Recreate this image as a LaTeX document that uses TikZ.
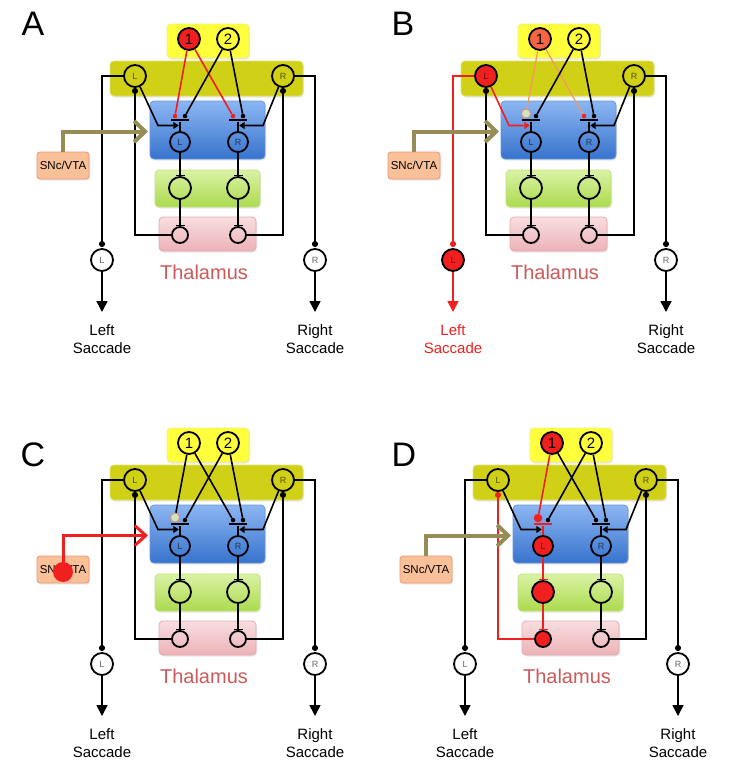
\documentclass[tikz,border=0pt]{standalone}
\usepackage{fontspec}
\setmainfont{Liberation Sans}
\usetikzlibrary{arrows.meta,calc,shadows}
\definecolor{cRed}{RGB}{240,32,32}
\definecolor{cOrg}{RGB}{250,100,65}
\definecolor{cOrL}{RGB}{245,150,100}
\definecolor{cSnc}{RGB}{150,140,85}
\definecolor{cPale}{RGB}{205,232,190}
\definecolor{cPaleD}{RGB}{232,140,125}
\definecolor{cThal}{RGB}{205,90,90}
\definecolor{cY}{RGB}{255,255,60}
\definecolor{cYd}{RGB}{238,238,130}
\definecolor{cOl}{RGB}{208,208,22}
\definecolor{cOld}{RGB}{225,225,120}
\definecolor{cBt}{RGB}{140,182,242}
\definecolor{cBb}{RGB}{55,115,205}
\definecolor{cBd}{RGB}{100,150,220}
\definecolor{cGt}{RGB}{218,242,165}
\definecolor{cGb}{RGB}{172,218,78}
\definecolor{cGd}{RGB}{190,228,120}
\definecolor{cPt}{RGB}{248,222,224}
\definecolor{cPb}{RGB}{236,178,183}
\definecolor{cPd}{RGB}{230,170,175}
\definecolor{cSf}{RGB}{250,192,152}
\definecolor{cSd}{RGB}{235,150,120}

\tikzset{
 wire/.style={line width=1.6pt},
 neu/.style={circle, draw=black, line width=1.8pt, inner sep=0pt, minimum size=22pt,
   font=\fontsize{9}{9}\selectfont, text=black, text opacity=0.6},
 num/.style={neu, font=\fontsize{15}{15}\selectfont, text opacity=1},
 blu/.style={neu, minimum size=20pt},
 sm/.style={neu, minimum size=16pt},
 dotT/.style={circle, fill=black, inner sep=0pt, minimum size=4.5pt, anchor=south},
 paleT/.style={circle, fill=cPale, draw=cPaleD, line width=0.9pt, inner sep=0pt,
   minimum size=9pt, anchor=south},
 gbar/.style={rectangle, fill=black, inner sep=0pt, minimum width=18pt, minimum height=2.6pt},
 inh/.style={wire, -{Bar[width=9pt]}},
 exc/.style={wire, -{Circle[length=6pt]}},
 gatein/.style={wire, -{Triangle[length=5.5pt,width=7pt]}},
 outarr/.style={wire, -{Triangle[length=11pt,width=11pt]}},
 sacc/.style={align=center, inner sep=0pt, font=\fontsize{15}{18}\selectfont},
 plab/.style={font=\fontsize{34}{34}\selectfont, inner sep=0pt},
 tha/.style={text=cThal, font=\fontsize{20}{20}\selectfont, inner sep=0pt},
 bx/.style={rounded corners=4pt, line width=0.8pt,
   drop shadow={opacity=0.18, shadow xshift=1pt, shadow yshift=-1.5pt}},
 sncbox/.style={rectangle, rounded corners=3pt, fill=cSf, draw=cSd, line width=0.8pt,
   minimum width=52pt, minimum height=27pt, inner sep=0pt, font=\fontsize{11.5}{12}\selectfont,
   drop shadow={opacity=0.18, shadow xshift=1pt, shadow yshift=-1.5pt}},
 blob/.style={circle, fill=cRed, inner sep=0pt, minimum size=20pt},
 % panel-variable styles (defaults)
 pOne/.style={}, lOneL/.style={}, lOneR/.style={},
 tOneL/.style={dotT}, tOneR/.style={dotT},
 ltop/.style={}, lout/.style={}, loutc/.style={fill=white}, labL/.style={},
 ltogate/.style={}, chainc/.style={}, chainl/.style={}, barL/.style={}, loopL/.style={},
 sncA/.style={draw=cSnc, line width=4pt, -{Straight Barb[length=11pt,width=21pt]}},
}

\newcommand\panel[4]{%
\begin{scope}[shift={(#2,#3)}]
 \path[bx, fill=cY, draw=cYd] (167,24) rectangle (249,58);
 \path[bx, fill=cOl, draw=cOld] (110,61) rectangle (303,96);
 \path[bx, top color=cBt, bottom color=cBb, draw=cBd] (150,101) rectangle (265,159);
 \path[bx, top color=cGt, bottom color=cGb, draw=cGd] (155,170) rectangle (260,207);
 \path[bx, top color=cPt, bottom color=cPb, draw=cPd] (159,217) rectangle (256,251);
 \node[sncbox] (#1-snc) at (63,165.5) {SNc/VTA};
 \node[tha] (#1-thal) at (204,272) {Thalamus};
 % neurons
 \node[num, pOne] (#1-one) at (189,39) {1};
 \node[num] (#1-two) at (228,39) {2};
 \node[neu, ltop] (#1-Lt) at (135,76) {L};
 \node[neu] (#1-Rt) at (283,76) {R};
 \node[blu, chainc] (#1-bL) at (180,142) {L};
 \node[blu] (#1-bR) at (238,142) {R};
 \node[neu, chainc] (#1-gL) at (180,188) {};
 \node[neu] (#1-gR) at (238,188) {};
 \node[sm, chainc] (#1-tL) at (180,235) {};
 \node[sm] (#1-tR) at (238,235) {};
 \node[neu, loutc] (#1-oL) at (102,260) {L};
 \node[neu, fill=white] (#1-oR) at (315,260) {R};
 % gates
 \node[gbar, barL] (#1-barL) at (180,120) {};
 \node[gbar] (#1-barR) at (238,120) {};
 \draw[line width=2.4pt, chainl] (#1-barL.south) -- (#1-bL.north);
 \draw[line width=2.4pt] (#1-barR.south) -- (#1-bR.north);
 \node[tOneL] (#1-d1L) at (175,118.5) {};
 \node[dotT] (#1-d2L) at (185,118.5) {};
 \node[tOneR] (#1-d1R) at (233,118.5) {};
 \node[dotT] (#1-d2R) at (243,118.5) {};
 \draw[wire, lOneL] (#1-one) -- (#1-d1L);
 \draw[wire, lOneR] (#1-one) -- (#1-d1R);
 \draw[wire] (#1-two) -- (#1-d2L);
 \draw[wire] (#1-two) -- (#1-d2R);
 % inputs from L/R to gates
 \coordinate (#1-kL) at (158,125.5);
 \coordinate (#1-iL) at (178.8,125.5);
 \coordinate (#1-kR) at (263,125.5);
 \coordinate (#1-iR) at (239.2,125.5);
 \draw[gatein, ltogate] (#1-Lt) -- (#1-kL) -- (#1-iL);
 \draw[gatein] (#1-Rt) -- (#1-kR) -- (#1-iR);
 % chains
 \draw[inh, chainl] (#1-bL) -- (#1-gL);
 \draw[inh, chainl] (#1-gL) -- (#1-tL);
 \draw[inh] (#1-bR) -- (#1-gR);
 \draw[inh] (#1-gR) -- (#1-tR);
 % thalamic loops
 \draw[exc, loopL] (#1-tL.west) -| (#1-Lt.south);
 \draw[exc] (#1-tR.east) -| (#1-Rt.south);
 % outputs
 \coordinate (#1-oLin) at (102,247);
 \coordinate (#1-oRin) at (315,247);
 \coordinate (#1-oLend) at (102,312);
 \coordinate (#1-oRend) at (315,312);
 \draw[exc, lout] (#1-Lt.west) -| (#1-oLin);
 \draw[exc] (#1-Rt.east) -| (#1-oRin);
 \draw[outarr, lout] (#1-oL) -- (#1-oLend);
 \draw[outarr] (#1-oR) -- (#1-oRend);
 \node[sacc, labL] (#1-labL) at (102,339) {Left\\Saccade};
 \node[sacc] (#1-labR) at (315,339) {Right\\Saccade};
 % dopamine input
 \coordinate (#1-se) at (148,131.5);
 \draw[sncA] (#1-snc.north) |- (#1-se);
 #4
\end{scope}}

\begin{document}
\begin{tikzpicture}[x=1pt,y=-1pt]
\useasboundingbox (0,0) rectangle (729,772);
\fill[white] (0,0) rectangle (729,772);

\node[plab] (labA) at (33,24) {A};
\node[plab] (labB) at (403,24) {B};
\node[plab] (labC) at (33,455) {C};
\node[plab] (labD) at (404,455) {D};

% Panel A
\begin{scope}
\tikzset{pOne/.style={fill=cRed}, lOneL/.style={color=cRed}, lOneR/.style={color=cRed},
  tOneL/.style={dotT, fill=cRed}, tOneR/.style={dotT, fill=cRed}}
\panel{A}{0}{0}{}
\end{scope}

% Panel B
\begin{scope}
\tikzset{pOne/.style={fill=cOrg}, lOneL/.style={color=cOrL, line width=1.2pt},
  lOneR/.style={color=cOrL, line width=1.2pt},
  tOneL/.style={paleT}, tOneR/.style={dotT, fill=cRed},
  ltop/.style={fill=cRed}, lout/.style={color=cRed}, loutc/.style={fill=cRed},
  labL/.style={text=cRed}, ltogate/.style={color=cRed}}
\panel{B}{351}{0}{}
\end{scope}

% Panel C
\begin{scope}
\tikzset{tOneL/.style={paleT},
  sncA/.style={draw=cRed, line width=3pt, -{Straight Barb[length=11pt,width=20pt]}}}
\panel{C}{0}{404}{%
  \node[blob] (C-blob) at (63,168) {};
  \draw[cRed, line width=3pt] (C-blob.center) -- (C-snc.north);}
\end{scope}

% Panel D
\begin{scope}
\tikzset{pOne/.style={fill=cRed}, lOneL/.style={color=cRed},
  tOneL/.style={dotT, fill=cRed, minimum size=8.5pt},
  barL/.style={fill=cRed}, chainl/.style={color=cRed}, chainc/.style={fill=cRed},
  loopL/.style={color=cRed}}
\panel{D}{363}{404}{}
\end{scope}
\end{tikzpicture}
\end{document}
